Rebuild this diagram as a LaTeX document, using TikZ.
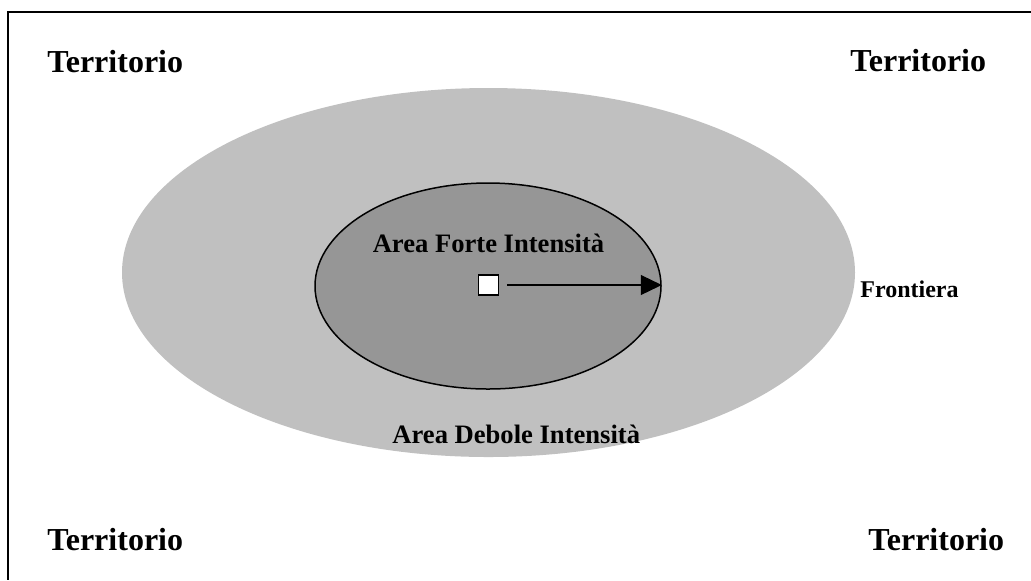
\documentclass[tikz,border=0pt]{standalone}
\usepackage{fontspec}
\setmainfont{Liberation Serif}
\usetikzlibrary{shapes.geometric,arrows.meta}
\definecolor{outergray}{HTML}{C0C0C0}
\definecolor{innergray}{HTML}{969696}
\tikzset{
  terr/.style={font=\fontsize{16pt}{18pt}\selectfont\bfseries, inner sep=0pt, anchor=base west},
  lbl/.style={font=\fontsize{13.3pt}{16pt}\selectfont\bfseries, inner sep=0pt},
  frontlbl/.style={font=\fontsize{12pt}{14pt}\selectfont\bfseries, inner sep=0pt, anchor=base west},
  outerell/.style={ellipse, fill=outergray, draw=none, minimum width=366.5pt, minimum height=184.5pt, inner sep=0pt},
  innerell/.style={ellipse, fill=innergray, draw=black, line width=0.75pt, minimum width=173pt, minimum height=103pt, inner sep=0pt},
  centrebox/.style={rectangle, fill=white, draw=black, line width=0.7pt, minimum width=10pt, minimum height=10pt, inner sep=0pt},
  radius arrow/.style={line width=0.55pt, -{Triangle[length=10.5pt,width=10pt]}, shorten <=4pt}
}
\begin{document}
\begin{tikzpicture}[x=0.5pt,y=-0.5pt]
\useasboundingbox (0,0) rectangle (1031,580);
% frame (cropped at right and bottom)
\coordinate (ftr) at (1031,12);
\coordinate (ftl) at (8,12);
\coordinate (fbl) at (8,580);
\draw[line width=1pt] (ftr) -- (ftl) -- (fbl);
% ellipses
\node[outerell] (outer) at (488.5,272.5) {};
\node[innerell] (inner) at (488,286) {};
% centre and arrow
\node[centrebox] (centre) at (488.5,285) {};
\draw[radius arrow] (centre.east) -- (centre.east -| inner.east);
% labels
\node[lbl, anchor=base] (forte) at (488.5,252) {Area Forte Intensità};
\node[lbl, anchor=base west] (debole) at (392,443) {Area Debole Intensità};
\node[frontlbl] (front) at (860,297) {Frontiera};
\node[terr] (t1) at (47,72) {Territorio};
\node[terr] (t2) at (850,71) {Territorio};
\node[terr] (t3) at (47,550) {Territorio};
\node[terr] (t4) at (868,550) {Territorio};
\end{tikzpicture}
\end{document}
